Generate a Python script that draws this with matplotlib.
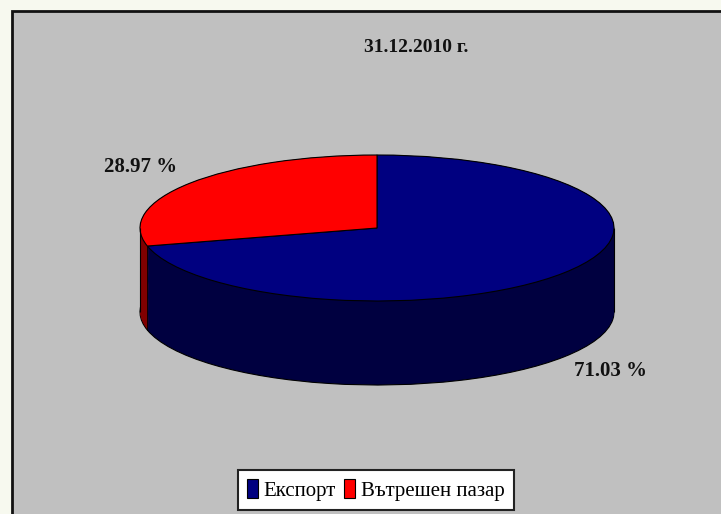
"""3D-style pie: share of export vs domestic market at 31.12.2010."""

import matplotlib

matplotlib.use("Agg")

import matplotlib.pyplot as plt
import numpy as np
from matplotlib.patches import Patch, Rectangle

# Data.
labels = ["Експорт", "Вътрешен пазар"]
shares = [71.03, 28.97]
label_texts = ["71.03 %", "28.97 %"]
title = "31.12.2010 г."

top_colors = ["#000080", "#ff0000"]
side_colors = ["#000040", "#800000"]

W, H = 721, 514
fig = plt.figure(figsize=(W / 100, H / 100), dpi=100)
fig.patch.set_facecolor("#f7f9ef")

# Background axes in pixel coordinates (y down) for frame, title, labels, legend.
bg = fig.add_axes([0, 0, 1, 1])
bg.set_xlim(0, W)
bg.set_ylim(H, 0)
bg.axis("off")
bg.add_patch(Rectangle((12, 11), W + 20, H + 20, facecolor="#c0c0c0",
                       edgecolor="#111111", linewidth=2))
bg.text(416, 47, title, ha="center", va="center", fontsize=14,
        fontweight="bold", family="Liberation Serif", color="#111111")

# Pie axes: ellipse centre at (377, 228) px, semi-axes 237 x 73 px, depth ~84 px.
cx, cy, a, b, depth_px = 377, 228, 237, 73, 84
left_px, right_px, top_px, bot_px = cx - 250, cx + 250, 140, 400
ax = fig.add_axes([left_px / W, 1 - bot_px / H, (right_px - left_px) / W,
                   (bot_px - top_px) / H])

depth = depth_px / b
startangle = 90 - 360 * shares[0] / 100  # red slice begins at 12 o'clock going CCW

# Side wall: stack of dark pies from bottom up.
offsets = np.linspace(depth, 0, 80)
for k, d in enumerate(offsets):
    edge = "black" if k == 0 else "none"
    ax.pie(shares, colors=side_colors, startangle=startangle, center=(0, -d),
           radius=1, frame=True,
           wedgeprops={"edgecolor": edge, "linewidth": 0.8})
ax.vlines([-1, 1], -depth, 0, color="black", linewidth=0.8)
# seam between red and blue on the front side
theta = np.deg2rad(startangle)
ax.vlines(np.cos(theta), np.sin(theta) - depth, np.sin(theta),
          color="black", linewidth=0.6)

# Top face.
ax.pie(shares, colors=top_colors, startangle=startangle, center=(0, 0),
       radius=1, frame=True,
       wedgeprops={"edgecolor": "black", "linewidth": 0.8})
# pie() forces an equal aspect; squash it back into an ellipse
ax.set_aspect("auto")
ax.set_xlim(-(cx - left_px) / a, (right_px - cx) / a)
ax.set_ylim(-(bot_px - cy) / b, (cy - top_px) / b)
ax.axis("off")

# Percentage labels.
bg.text(611, 371, label_texts[0], ha="center", va="center", fontsize=15,
        family="Liberation Serif", fontweight="bold", color="#111111")
bg.text(141, 167, label_texts[1], ha="center", va="center", fontsize=15,
        family="Liberation Serif", fontweight="bold", color="#111111")

handles = [Patch(facecolor=c, edgecolor="black", linewidth=0.8) for c in top_colors]
leg = bg.legend(handles, labels, loc="center", bbox_to_anchor=(376 / W, 1 - 490 / H),
                bbox_transform=fig.transFigure, ncol=2, frameon=True, fancybox=False,
                prop={"family": "Liberation Serif", "size": 15},
                handlelength=0.5, handleheight=1.0, handletextpad=0.3,
                columnspacing=0.4, borderpad=0.45, borderaxespad=0)
leg.get_frame().set_edgecolor("#222222")
leg.get_frame().set_linewidth(1.5)
leg.get_frame().set_facecolor("white")
leg.get_frame().set_alpha(1)

fig.savefig("out.png", dpi=100, facecolor=fig.get_facecolor())
